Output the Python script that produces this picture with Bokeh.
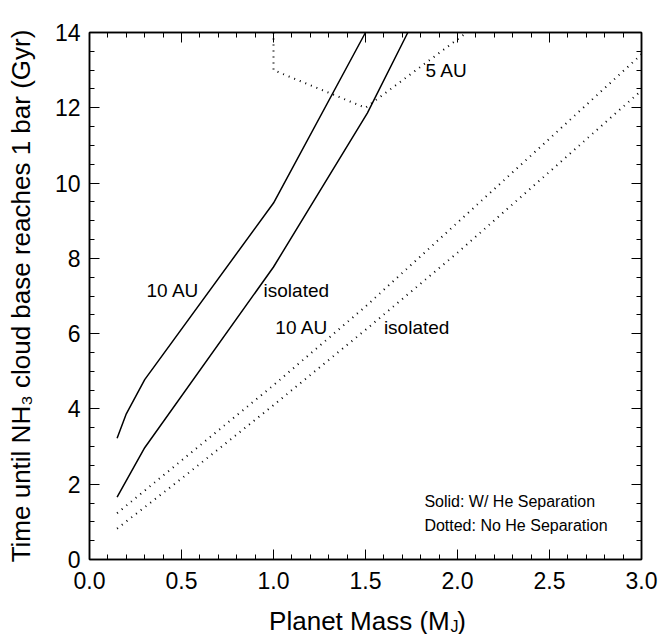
from bokeh.plotting import figure
from bokeh.layouts import column
from bokeh.models import (Range1d, SingleIntervalTicker, PrintfTickFormatter, LinearAxis,
                          CustomJSTickFormatter, ColumnDataSource)
from bokeh.core.properties import value
from bokeh.embed import file_html
from bokeh.resources import INLINE

FONT = "Liberation Sans"

# ---- data ----
solid_10au_mass = [0.15, 0.20, 0.30, 1.00, 1.50]
solid_10au_time = [3.22, 3.87, 4.78, 9.47, 14.0]

solid_iso_mass = [0.15, 0.30, 1.00, 1.51, 1.73]
solid_iso_time = [1.66, 2.97, 7.77, 11.86, 14.0]

dotted_10au_mass = [0.15, 0.5, 1.0, 1.5, 2.0, 2.5, 3.0]
dotted_10au_time = [1.23, 2.63, 4.63, 6.72, 8.95, 11.18, 13.42]

dotted_iso_mass = [0.15, 0.5, 1.0, 1.5, 2.0, 2.5, 3.0]
dotted_iso_time = [0.82, 2.15, 4.10, 6.10, 8.15, 10.30, 12.46]

dotted_5au_mass = [1.0, 1.0, 1.5, 2.05]
dotted_5au_time = [14.0, 13.0, 12.0, 14.0]

curve_label_text = ["10 AU", "isolated", "10 AU", "isolated", "5 AU"]
curve_label_x = [0.31, 0.946, 1.01, 1.60, 1.826]
curve_label_y = [7.15, 7.15, 6.17, 6.17, 12.99]

legend_text = ["Solid: W/ He Separation", "Dotted: No He Separation"]
legend_x = [1.82, 1.82]
legend_y = [1.54, 0.90]

x_title_parts = ["Planet Mass (M", "J", ")"]
y_title = "Time until NH\u2083 cloud base reaches 1 bar (Gyr)"

W, H = 662, 634
XT_H = 30          # strip holding the x-axis title (for the subscript J)
MAIN_H = H - XT_H

# ---- main figure ----
p = figure(width=W, height=MAIN_H, x_range=Range1d(0, 3), y_range=Range1d(0, 14),
           output_backend="svg", toolbar_location=None,
           min_border_left=89, min_border_right=21, min_border_top=32,
           min_border_bottom=MAIN_H - 559)
p.xgrid.visible = False
p.ygrid.visible = False
p.outline_line_color = "black"
p.outline_line_width = 1.5
p.background_fill_color = "white"
p.border_fill_color = "white"


def style_axis(ax, ticker, show_labels, fmt):
    ax.ticker = ticker
    ax.axis_line_color = "black"
    ax.axis_line_width = 1.5
    ax.major_tick_in = 10
    ax.major_tick_out = 0
    ax.minor_tick_in = 5
    ax.minor_tick_out = 0
    ax.major_tick_line_color = "black"
    ax.minor_tick_line_color = "black"
    ax.major_tick_line_width = 1
    ax.minor_tick_line_width = 1
    if show_labels:
        ax.formatter = PrintfTickFormatter(format=fmt)
        ax.major_label_text_font = FONT
        ax.major_label_text_font_size = "23px"
        ax.major_label_text_color = "black"
    else:
        ax.formatter = CustomJSTickFormatter(code="return ''")
        ax.major_label_text_font_size = "0px"
        ax.major_label_standoff = 0


def xt():
    return SingleIntervalTicker(interval=0.5, num_minor_ticks=5)


def yt():
    return SingleIntervalTicker(interval=2, num_minor_ticks=4)


style_axis(p.xaxis[0], xt(), True, "%.1f")
p.xaxis[0].major_label_standoff = 12
style_axis(p.yaxis[0], yt(), True, "%d")
p.yaxis[0].major_label_standoff = 9
p.yaxis[0].axis_label = y_title
p.yaxis[0].axis_label_text_font = FONT
p.yaxis[0].axis_label_text_font_size = "26px"
p.yaxis[0].axis_label_text_font_style = "normal"
p.yaxis[0].axis_label_text_color = "black"
p.yaxis[0].axis_label_standoff = 16

top_ax = LinearAxis()
style_axis(top_ax, xt(), False, None)
p.add_layout(top_ax, "above")
right_ax = LinearAxis()
style_axis(right_ax, yt(), False, None)
p.add_layout(right_ax, "right")

# ---- curves ----
p.line(solid_10au_mass, solid_10au_time, line_color="black", line_width=1.5)
p.line(solid_iso_mass, solid_iso_time, line_color="black", line_width=1.5)
for xs, ys in [(dotted_10au_mass, dotted_10au_time),
               (dotted_iso_mass, dotted_iso_time),
               (dotted_5au_mass, dotted_5au_time)]:
    p.line(xs, ys, line_color="black", line_width=2, line_dash="1 5")

# ---- in-plot labels ----
src = ColumnDataSource(dict(x=curve_label_x, y=curve_label_y, t=curve_label_text))
p.text(x="x", y="y", text="t", source=src, text_font=value(FONT), text_font_size="19px",
       text_align="left", text_baseline="middle", text_color="black")

src2 = ColumnDataSource(dict(x=legend_x, y=legend_y, t=legend_text))
p.text(x="x", y="y", text="t", source=src2, text_font=value(FONT), text_font_size="16px",
       text_align="left", text_baseline="middle", text_color="black")

# ---- x-axis title strip (pixel coordinates, y measured from strip bottom) ----
xf = figure(width=W, height=XT_H, x_range=Range1d(0, W), y_range=Range1d(0, XT_H),
            output_backend="svg", toolbar_location=None, x_axis_type=None, y_axis_type=None,
            min_border=0, min_border_left=0, min_border_right=0, min_border_top=0,
            min_border_bottom=0)
xf.xgrid.visible = False
xf.ygrid.visible = False
xf.outline_line_color = None
xf.background_fill_color = "white"
xf.border_fill_color = "white"

cy = XT_H - (620 - MAIN_H)
X0 = 432
xf.text(x=[X0], y=[cy], text=[x_title_parts[0]], text_font=value(FONT), text_font_size="26px",
        text_align="right", text_baseline="middle", text_color="black")
xf.text(x=[X0 + 1], y=[cy - 6], text=[x_title_parts[1]], text_font=value(FONT), text_font_size="16px",
        text_align="left", text_baseline="middle", text_color="black")
xf.text(x=[X0 + 9], y=[cy], text=[x_title_parts[2]], text_font=value(FONT), text_font_size="26px",
        text_align="left", text_baseline="middle", text_color="black")

layout = column(p, xf, spacing=0)
open("out.html", "w").write(file_html(layout, INLINE))
